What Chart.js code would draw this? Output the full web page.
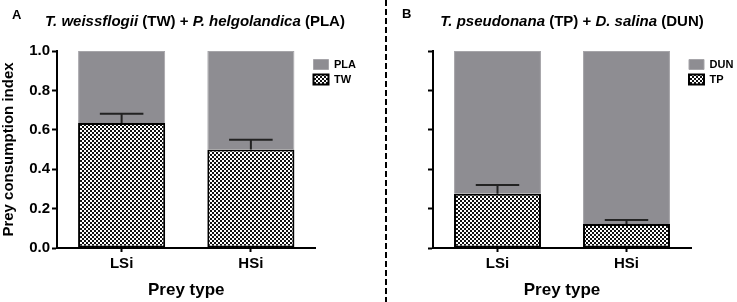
<!DOCTYPE html>
<html>
<head>
<meta charset="utf-8">
<script src="https://cdn.jsdelivr.net/npm/chart.js@4.4.0/dist/chart.umd.min.js"></script>
<style>
  body { margin: 0; width: 737px; height: 302px; background: #fff; position: relative; overflow: hidden;
         font-family: "Liberation Sans", Arial, sans-serif; color: #000; }
  .letter { position: absolute; font-weight: bold; font-size: 13px; line-height: 15px; }
  .title { position: absolute; font-weight: bold; font-size: 15px; line-height: 18px; white-space: nowrap; transform: translateX(-50%); }
  #chartA { position: absolute; left: 0; top: 40px; }
  #chartB { position: absolute; left: 376px; top: 40px; }
  svg { position: absolute; left: 0; top: 0; }
</style>
</head>
<body>
<canvas id="chartA" width="372" height="262"></canvas>
<canvas id="chartB" width="361" height="262"></canvas>
<svg width="737" height="302"><line x1="386" y1="0" x2="386" y2="302" stroke="#000" stroke-width="2" stroke-dasharray="6 3"/></svg>
<div class="letter" style="left:12px;top:7px">A</div>
<div class="title" style="left:195px;top:12px"><i>T. weissflogii</i> (TW) + <i>P. helgolandica</i> (PLA)</div>
<div class="letter" style="left:402px;top:6px">B</div>
<div class="title" style="left:572px;top:12px"><i>T. pseudonana</i> (TP) + <i>D. salina</i> (DUN)</div>
<script>
// data
const categories = ["LSi", "HSi"];
const yTicks = [0, 0.2, 0.4, 0.6, 0.8, 1.0];

const twValues = [0.635, 0.50];
const twErrors = [0.047, 0.05];
const plaValues = [0.365, 0.50];

const tpValues = [0.275, 0.122];
const tpErrors = [0.045, 0.02];
const dunValues = [0.725, 0.878];

const GREY = '#8e8d92';
Chart.defaults.font.family = '"Liberation Sans", Arial, sans-serif';
Chart.defaults.color = '#000';

function checker(canvas) {
    const c = document.createElement('canvas');
    c.width = 4; c.height = 4;
    const g = c.getContext('2d');
    g.fillStyle = '#fff'; g.fillRect(0, 0, 4, 4);
    g.fillStyle = '#111'; g.fillRect(0, 0, 2, 2); g.fillRect(2, 2, 2, 2);
    return canvas.getContext('2d').createPattern(c, 'repeat');
}

// upper whisker only, on the bottom (patterned) series
const errorBars = {
    id: 'errorBars',
    afterDatasetsDraw(chart) {
        const ds = chart.data.datasets[0];
        const meta = chart.getDatasetMeta(0);
        const y = chart.scales.y;
        const ctx = chart.ctx;
        ctx.save();
        ctx.strokeStyle = '#222';
        ctx.lineWidth = 2;
        meta.data.forEach(function(bar, i) {
            const top = y.getPixelForValue(ds.data[i] + ds.errors[i]);
            const half = bar.width / 4;
            ctx.beginPath();
            ctx.moveTo(bar.x, bar.y);
            ctx.lineTo(bar.x, top);
            ctx.moveTo(bar.x - half, top);
            ctx.lineTo(bar.x + half, top);
            ctx.stroke();
        });
        ctx.restore();
    }
};

// nudge the legend a few px left, onto the end of the x axis like the original
// (only the left edge moves so the legend clip box still reaches the canvas edge)
const legendShift = {
    id: 'legendShift',
    afterLayout(chart, args, opts) {
        chart.legend.left += opts.dx;
    }
};

function makeChart(id, bottom, top, showYLabels, legendWidth, dx) {
    const canvas = document.getElementById(id);
    return new Chart(canvas, {
        type: 'bar',
        data: {
            labels: categories,
            datasets: [
                {
                    label: bottom.label,
                    data: bottom.values,
                    errors: bottom.errors,
                    backgroundColor: checker(canvas),
                    borderColor: '#000',
                    borderWidth: 2,
                    borderSkipped: false
                },
                {
                    label: top.label,
                    data: top.values,
                    backgroundColor: GREY,
                    borderColor: '#a6a5a9',
                    borderWidth: 1,
                    borderSkipped: 'start'
                }
            ]
        },
        options: {
            responsive: false,
            animation: false,
            events: [],
            layout: { padding: { top: 11, left: 0, right: 0, bottom: 0 } },
            datasets: { bar: { categoryPercentage: 1, barPercentage: 0.674 } },
            plugins: {
                tooltip: { enabled: false },
                legend: {
                    position: 'right',
                    align: 'start',
                    reverse: true,
                    maxWidth: legendWidth,
                    title: { display: true, text: '', font: { size: 1, lineHeight: 1 }, padding: { top: 3, bottom: 0 } },
                    labels: { boxWidth: 15, boxHeight: 10, padding: 4, color: '#000', font: { size: 11, weight: 'bold' } }
                },
                legendShift: { dx: dx }
            },
            scales: {
                x: {
                    stacked: true,
                    grid: { drawOnChartArea: false, drawTicks: true, tickLength: 4, tickWidth: 2, tickColor: '#000', offset: false },
                    border: { display: true, color: '#000', width: 2 },
                    ticks: { color: '#000', padding: 3, font: { size: 15, weight: 'bold' } },
                    title: { display: true, text: 'Prey type', color: '#000', font: { size: 17, weight: 'bold' }, padding: { top: 0, bottom: 1 } },
                    afterFit: function(s) { s.height = 54; }
                },
                y: {
                    stacked: true,
                    min: 0,
                    max: 1,
                    afterBuildTicks: function(s) { s.ticks = yTicks.map(v => ({ value: v })); },
                    grid: { drawOnChartArea: false, drawTicks: true, tickLength: 5, tickWidth: 2, tickColor: '#000' },
                    border: { display: true, color: '#000', width: 2 },
                    ticks: {
                        display: showYLabels,
                        color: '#000',
                        padding: 2,
                        font: { size: 15, weight: 'bold' },
                        callback: v => Number(v).toFixed(1)
                    },
                    title: {
                        display: showYLabels,
                        text: 'Prey consumption index',
                        color: '#000',
                        font: { size: 15, weight: 'bold' },
                        padding: { top: 0, bottom: 0 }
                    },
                    afterFit: function(s) { s.width = 57; }
                }
            }
        },
        plugins: [errorBars, legendShift]
    });
}

makeChart('chartA',
    { label: 'TW', values: twValues, errors: twErrors },
    { label: 'PLA', values: plaValues },
    true, 58, -6);

makeChart('chartB',
    { label: 'TP', values: tpValues, errors: tpErrors },
    { label: 'DUN', values: dunValues },
    false, 46, -6);
</script>
</body>
</html>
